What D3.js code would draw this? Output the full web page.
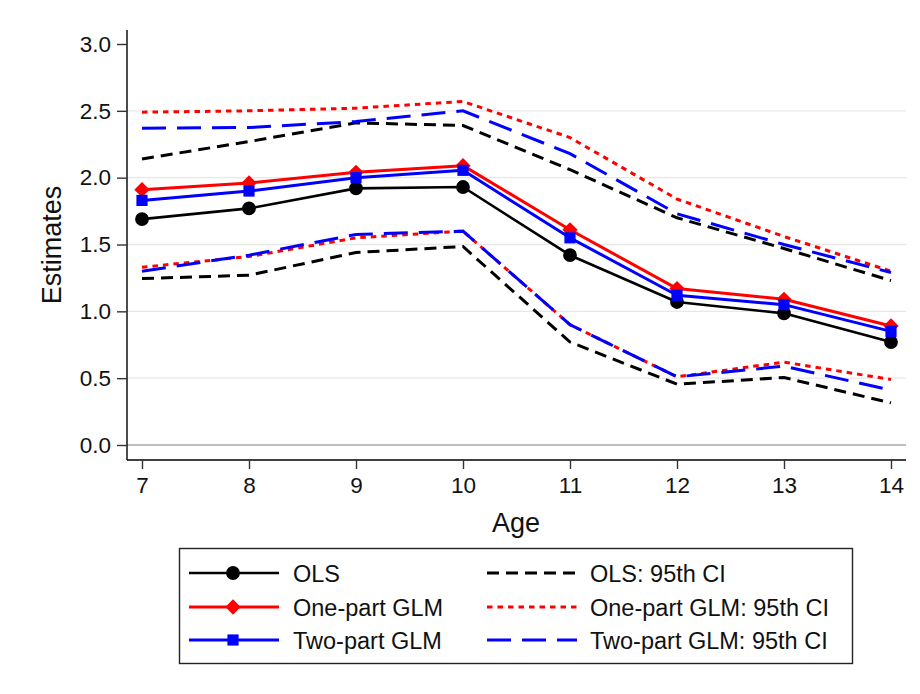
<!DOCTYPE html>
<html>
<head>
<meta charset="utf-8">
<script src="https://cdn.jsdelivr.net/npm/d3@7"></script>
<style>
  html, body { margin: 0; padding: 0; background: #ffffff; }
  svg { display: block; font-family: "Liberation Sans", Arial, sans-serif; }
</style>
</head>
<body>
<svg id="chart" width="920" height="694"></svg>
<script>
// Ages on the x axis
const ages = [7, 8, 9, 10, 11, 12, 13, 14];

// Point estimates
const olsEst     = [1.69, 1.77, 1.92, 1.93, 1.42, 1.07, 0.985, 0.77];
const onePartEst = [1.91, 1.96, 2.04, 2.09, 1.61, 1.17, 1.09, 0.89];
const twoPartEst = [1.83, 1.90, 2.00, 2.055, 1.55, 1.12, 1.05, 0.85];

// 95% confidence bounds
const olsLo      = [1.245, 1.27, 1.44, 1.485, 0.77, 0.455, 0.505, 0.315];
const olsHi      = [2.14, 2.27, 2.41, 2.39, 2.06, 1.70, 1.47, 1.23];
const onePartLo  = [1.33, 1.41, 1.55, 1.60, 0.90, 0.51, 0.62, 0.49];
const onePartHi  = [2.49, 2.50, 2.52, 2.57, 2.30, 1.84, 1.56, 1.30];
const twoPartLo  = [1.30, 1.42, 1.575, 1.60, 0.90, 0.51, 0.59, 0.41];
const twoPartHi  = [2.37, 2.375, 2.42, 2.50, 2.18, 1.73, 1.50, 1.29];

// Axis ticks
const yTicks = [0, 0.5, 1, 1.5, 2, 2.5, 3];
const xTicks = ages;

const svg = d3.select("#chart");
const FONT = "Liberation Sans, Arial, sans-serif";

const plot = { left: 127, right: 906, top: 30, bottom: 460 };

const x = d3.scaleLinear().domain([7, 14]).range([142, 891]);
const y = d3.scaleLinear().domain([0, 3]).range([445, 44]);

// Horizontal grid lines
svg.append("g").selectAll("line")
  .data(yTicks.filter(t => t > 0 && t < 3))
  .join("line")
  .attr("x1", plot.left).attr("x2", plot.right)
  .attr("y1", d => y(d)).attr("y2", d => y(d))
  .attr("stroke", "#e8e8e8").attr("stroke-width", 1.4);

// Zero reference line
svg.append("line")
  .attr("x1", plot.left).attr("x2", plot.right)
  .attr("y1", y(0)).attr("y2", y(0))
  .attr("stroke", "#a8a8a8").attr("stroke-width", 1.4);

// Y axis
const yAxis = d3.axisLeft(y).tickValues(yTicks).tickFormat(d3.format(".1f"))
  .tickSize(10).tickPadding(6);
const gy = svg.append("g").attr("transform", `translate(${plot.left},0)`).call(yAxis);
gy.attr("font-size", null).attr("font-family", null);
gy.select(".domain").attr("d", `M0,${plot.top}V${plot.bottom}`).attr("stroke", "#000").attr("stroke-width", 1.4);
gy.selectAll(".tick line").attr("stroke", "#333").attr("stroke-width", 1.4);
gy.selectAll(".tick text").style("font-size", "22.5px").attr("fill", "#111")
  .style("font-family", FONT);

// X axis
const xAxis = d3.axisBottom(x).tickValues(xTicks).tickFormat(d3.format("d"))
  .tickSize(9).tickPadding(8);
const gx = svg.append("g").attr("transform", `translate(0,${plot.bottom})`).call(xAxis);
gx.attr("font-size", null).attr("font-family", null);
gx.select(".domain").attr("d", `M${plot.left},0H${plot.right}`).attr("stroke", "#000").attr("stroke-width", 1.4);
gx.selectAll(".tick line").attr("stroke", "#333").attr("stroke-width", 1.4);
gx.selectAll(".tick text").style("font-size", "22.5px").attr("fill", "#111")
  .style("font-family", FONT);

// Axis titles
svg.append("text")
  .attr("x", 516).attr("y", 532)
  .attr("text-anchor", "middle").style("font-size", "27px").attr("fill", "#111")
  .text("Age");
svg.append("text")
  .attr("transform", "translate(61,245) rotate(-90)")
  .attr("text-anchor", "middle").style("font-size", "27px").attr("fill", "#111")
  .text("Estimates");

const line = d3.line().x((d, i) => x(ages[i])).y(d => y(d));

// Series definitions
const ciSeries = [
  { name: "OLS: 95th CI", color: "#000000", dash: "12,7", width: 3, data: [olsLo, olsHi] },
  { name: "One-part GLM: 95th CI", color: "#ff0000", dash: "5.5,5", width: 3, data: [onePartLo, onePartHi] },
  { name: "Two-part GLM: 95th CI", color: "#0000ff", dash: "24,11", width: 3, data: [twoPartLo, twoPartHi] }
];
const estSeries = [
  { name: "OLS", color: "#000000", width: 2.6, symbol: d3.symbolCircle, size: 150, data: olsEst },
  { name: "One-part GLM", color: "#ff0000", width: 3, symbol: d3.symbolDiamond2, size: 150, data: onePartEst },
  { name: "Two-part GLM", color: "#0000ff", width: 3, symbol: d3.symbolSquare, size: 125, data: twoPartEst }
];

// Estimate lines with markers
estSeries.forEach(s => {
  svg.append("path").datum(s.data)
    .attr("d", line).attr("fill", "none")
    .attr("stroke", s.color).attr("stroke-width", s.width)
    .attr("stroke-linejoin", "round");
});
estSeries.forEach(s => {
  svg.append("g").selectAll("path")
    .data(s.data).join("path")
    .attr("transform", (d, i) => `translate(${x(ages[i])},${y(d)})`)
    .attr("d", d3.symbol().type(s.symbol).size(s.size))
    .attr("fill", s.color);
});

// Confidence interval lines
ciSeries.forEach(s => {
  s.data.forEach(arr => {
    svg.append("path").datum(arr)
      .attr("d", line).attr("fill", "none")
      .attr("stroke", s.color).attr("stroke-width", s.width)
      .attr("stroke-dasharray", s.dash);
  });
});

// Legend
const lg = svg.append("g");
lg.append("rect")
  .attr("x", 179.5).attr("y", 548.5).attr("width", 673).attr("height", 115)
  .attr("fill", "#fff").attr("stroke", "#222").attr("stroke-width", 1.4);

const rowY = [573, 607, 640];
estSeries.forEach((s, i) => {
  const yy = rowY[i];
  lg.append("line").attr("x1", 189).attr("x2", 279).attr("y1", yy).attr("y2", yy)
    .attr("stroke", s.color).attr("stroke-width", s.width);
  lg.append("path")
    .attr("transform", `translate(233,${yy})`)
    .attr("d", d3.symbol().type(s.symbol).size(s.size))
    .attr("fill", s.color);
  lg.append("text").attr("x", 293).attr("y", yy + 8.5)
    .style("font-size", "23.5px").attr("fill", "#111").text(s.name);
});
ciSeries.forEach((s, i) => {
  const yy = rowY[i];
  lg.append("line").attr("x1", 487).attr("x2", 577).attr("y1", yy).attr("y2", yy)
    .attr("stroke", s.color).attr("stroke-width", s.width)
    .attr("stroke-dasharray", s.dash);
  lg.append("text").attr("x", 590).attr("y", yy + 8.5)
    .style("font-size", "23.5px").attr("fill", "#111").text(s.name);
});
</script>
</body>
</html>
